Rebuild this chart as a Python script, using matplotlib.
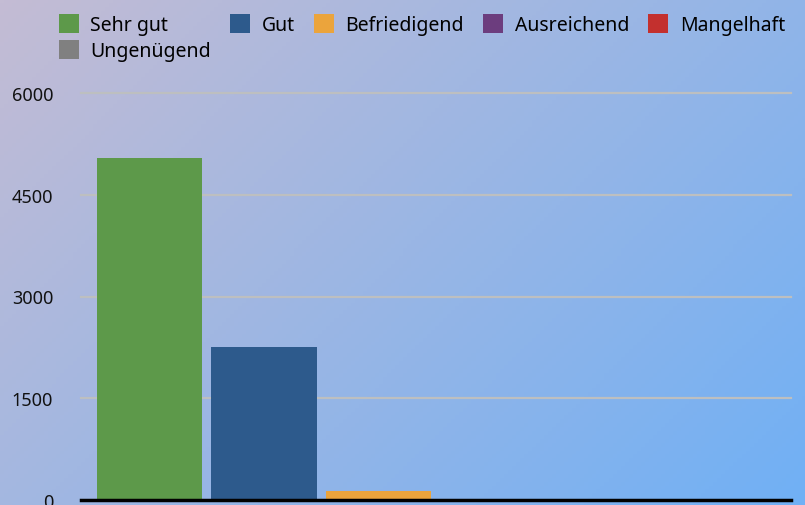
import numpy as np
import matplotlib.pyplot as plt
from matplotlib.patches import Patch

plt.rcParams['font.family'] = ['Noto Sans', 'DejaVu Sans']

# Noten und Anzahl
grades = ['Sehr gut', 'Gut', 'Befriedigend', 'Ausreichend', 'Mangelhaft', 'Ungenügend']
counts = [5040, 2260, 135, 0, 0, 0]
colors = ['#5d994a', '#2d5a8c', '#eba43c', '#6c3d7e', '#c3302e', '#808080']
yticks = [0, 1500, 3000, 4500, 6000]

W, H = 805, 506
fig = plt.figure(figsize=(W / 100, H / 100), dpi=100)

# background gradient (top-left -> bottom-right)
bg = fig.add_axes([0, 0, 1, 1], zorder=-10)
gx, gy = np.meshgrid(np.linspace(0, 1, 200), np.linspace(0, 1, 130))
t = (gx * W + gy * H) / (W + H)
c1 = np.array([196, 188, 212]) / 255
c2 = np.array([112, 176, 245]) / 255
img = c1[None, None, :] * (1 - t[..., None]) + c2[None, None, :] * t[..., None]
bg.imshow(img, aspect='auto', extent=[0, 1, 0, 1], origin='upper')
bg.axis('off')

# plot area
ax = fig.add_axes([81 / W, 1 - 501 / H, 710 / W, (501 - 94) / H])
ax.patch.set_alpha(0)
x = np.arange(len(grades))
ax.bar(x, counts, width=0.92, color=colors, zorder=3)

ax.set_ylim(0, 6000)
ax.set_xlim(-0.6, len(grades) - 1 + 0.61)
ax.set_yticks(yticks)
ax.set_yticklabels([str(v) for v in yticks], fontsize=13, color='#111111')
ax.set_xticks([])
ax.tick_params(axis='y', length=0, pad=20)
for v in yticks[1:]:
    ax.axhline(v, color='#bdbfc0', linewidth=1.6, zorder=1, clip_on=False)
for s in ['top', 'right', 'left']:
    ax.spines[s].set_visible(False)
ax.spines['bottom'].set_color('black')
ax.spines['bottom'].set_linewidth(2.5)
ax.spines['bottom'].set_zorder(4)

# legend, row-major order for 5 columns
handles = [Patch(facecolor=c, edgecolor='none') for c in colors]
order = [0, 5, 1, 2, 3, 4]
fig.legend([handles[i] for i in order], [grades[i] for i in order],
           ncol=5, loc='upper left', bbox_to_anchor=(51 / W, 1 - 7 / H),
           frameon=False, fontsize=14, handlelength=1.03, handleheight=1.12,
           handletextpad=0.58, columnspacing=1.0, labelspacing=0.28,
           borderaxespad=0)

fig.savefig('out.png', dpi=100)
